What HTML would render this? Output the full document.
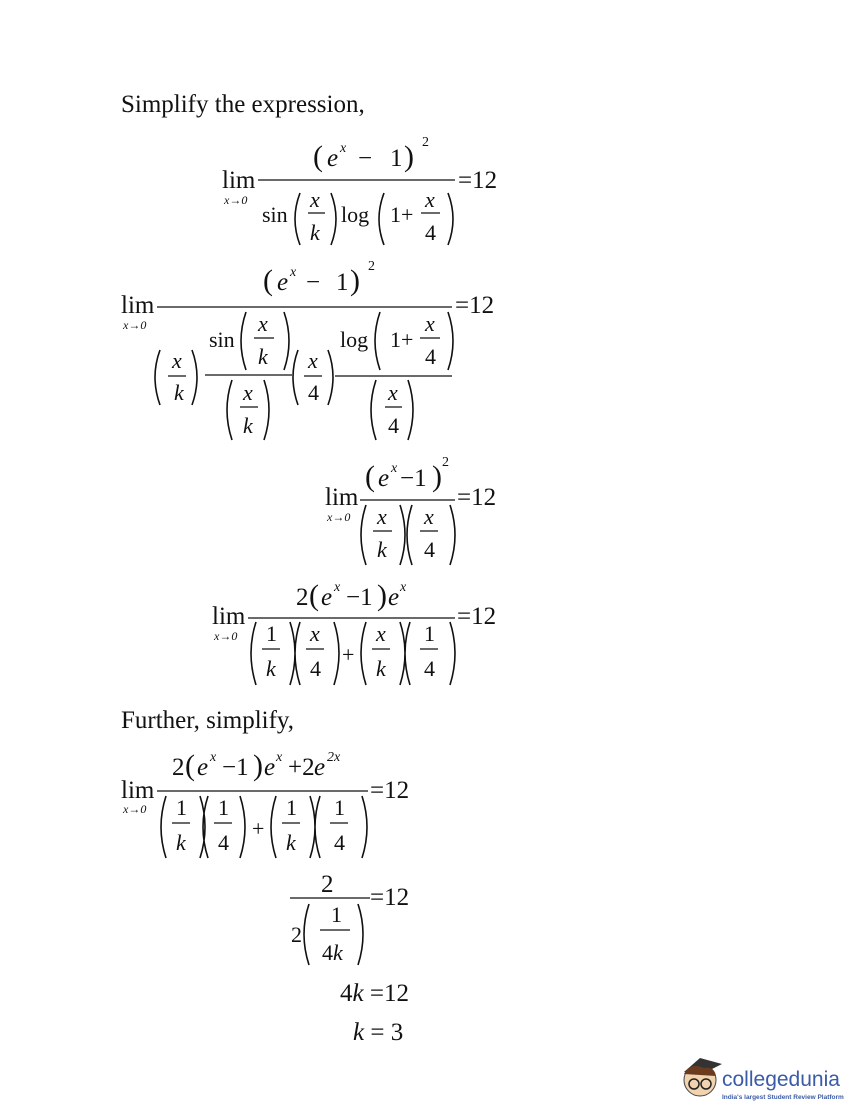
<!DOCTYPE html>
<html><head><meta charset="utf-8"><style>
html,body{margin:0;padding:0;background:#fff;}
svg{display:block}
text{font-family:"Liberation Serif",serif;fill:#111;}
.i{font-style:italic}
.s{font-size:12px;font-style:italic}
.sup{font-size:14px}
.L{font-size:25px}
.f{font-size:22px}
.p{fill:none;stroke:#111;stroke-width:1.6}
.l{stroke:#111;stroke-width:1.2}
</style></head><body>
<svg width="860" height="1120" viewBox="0 0 860 1120" xmlns="http://www.w3.org/2000/svg">
<text x="121" y="112" style="font-size:25px">Simplify the expression,</text>

<!-- Block 1 -->
<g class="L">
<text x="313" y="166" style="font-size:30px">(</text><text x="327" y="166" class="i">e</text><text x="340" y="152" class="i sup">x</text><text x="358" y="166">−</text><text x="390" y="166">1</text><text x="404" y="166" style="font-size:30px">)</text><text x="422" y="146" class="sup">2</text>
<text x="222" y="188">lim</text><text x="458" y="188">=12</text>
</g>
<text x="224" y="204" class="s">x→0</text>
<line x1="258" y1="180" x2="455" y2="180" class="l"/>
<g class="f">
<text x="262" y="222">sin</text>
<text x="310" y="207" class="i">x</text><text x="310" y="240" class="i">k</text>
<text x="341" y="222">log</text><text x="390" y="222">1+</text>
<text x="425" y="207" class="i">x</text><text x="425" y="240">4</text>
</g>
<line x1="308" y1="213" x2="325" y2="213" class="l"/><line x1="421" y1="213" x2="440" y2="213" class="l"/>
<path class="p" d="M300 193 Q290 219 300 245 M331 193 Q341 219 331 245 M384 193 Q374 219 384 245 M448 193 Q458 219 448 245"/>

<!-- Block 2 -->
<g class="L">
<text x="263" y="290" style="font-size:30px">(</text><text x="277" y="290" class="i">e</text><text x="290" y="276" class="i sup">x</text><text x="306" y="290">−</text><text x="336" y="290">1</text><text x="350" y="290" style="font-size:30px">)</text><text x="368" y="270" class="sup">2</text>
<text x="121" y="313">lim</text><text x="455" y="313">=12</text>
</g>
<text x="123" y="329" class="s">x→0</text>
<line x1="157" y1="307" x2="452" y2="307" class="l"/>
<g class="f">
<text x="209" y="347">sin</text>
<text x="258" y="331" class="i">x</text><text x="258" y="364" class="i">k</text>
<text x="243" y="400" class="i">x</text><text x="243" y="433" class="i">k</text>
<text x="172" y="368" class="i">x</text><text x="174" y="400" class="i">k</text>
<text x="308" y="368" class="i">x</text><text x="308" y="400">4</text>
<text x="340" y="347">log</text><text x="390" y="347">1+</text>
<text x="425" y="331" class="i">x</text><text x="425" y="364">4</text>
<text x="388" y="400" class="i">x</text><text x="388" y="433">4</text>
</g>
<line x1="254" y1="338" x2="274" y2="338" class="l"/>
<line x1="205" y1="375" x2="292" y2="375" class="l"/>
<line x1="240" y1="407" x2="258" y2="407" class="l"/>
<line x1="168" y1="376" x2="186" y2="376" class="l"/>
<line x1="304" y1="376" x2="322" y2="376" class="l"/>
<line x1="420" y1="338" x2="440" y2="338" class="l"/>
<line x1="335" y1="376" x2="452" y2="376" class="l"/>
<line x1="385" y1="407" x2="402" y2="407" class="l"/>
<path class="p" d="M246 312 Q236 341 246 370 M284 312 Q294 341 284 370 M232 380 Q222 410 232 440 M264 380 Q274 410 264 440 M160 350 Q150 377 160 405 M192 350 Q202 377 192 405 M298 350 Q288 377 298 405 M328 350 Q338 377 328 405 M380 312 Q370 341 380 370 M448 312 Q458 341 448 370 M376 380 Q366 410 376 440 M408 380 Q418 410 408 440"/>

<!-- Block 3 -->
<g class="L">
<text x="365" y="486" style="font-size:30px">(</text><text x="378" y="486" class="i">e</text><text x="391" y="472" class="i sup">x</text><text x="400" y="486">−1</text><text x="432" y="486" style="font-size:30px">)</text><text x="442" y="466" class="sup">2</text>
<text x="325" y="505">lim</text><text x="457" y="505">=12</text>
</g>
<text x="327" y="521" class="s">x→0</text>
<line x1="360" y1="500" x2="455" y2="500" class="l"/>
<g class="f">
<text x="377" y="524" class="i">x</text><text x="377" y="557" class="i">k</text>
<text x="424" y="524" class="i">x</text><text x="424" y="557">4</text>
</g>
<line x1="373" y1="531" x2="392" y2="531" class="l"/><line x1="420" y1="531" x2="438" y2="531" class="l"/>
<path class="p" d="M366 505 Q356 535 366 565 M400 505 Q410 535 400 565 M412 505 Q402 535 412 565 M450 505 Q460 535 450 565"/>

<!-- Block 4 -->
<g class="L">
<text x="296" y="605">2</text><text x="309" y="605" style="font-size:30px">(</text><text x="321" y="605" class="i">e</text><text x="334" y="591" class="i sup">x</text><text x="346" y="605">−1</text><text x="377" y="605" style="font-size:30px">)</text><text x="388" y="605" class="i">e</text><text x="400" y="591" class="i sup">x</text>
<text x="212" y="624">lim</text><text x="457" y="624">=12</text>
</g>
<text x="214" y="640" class="s">x→0</text>
<line x1="248" y1="618" x2="455" y2="618" class="l"/>
<g class="f">
<text x="266" y="641">1</text><text x="266" y="676" class="i">k</text>
<text x="310" y="641" class="i">x</text><text x="310" y="676">4</text>
<text x="342" y="662">+</text>
<text x="376" y="641" class="i">x</text><text x="376" y="676" class="i">k</text>
<text x="424" y="641">1</text><text x="424" y="676">4</text>
</g>
<line x1="262" y1="649" x2="280" y2="649" class="l"/><line x1="306" y1="649" x2="324" y2="649" class="l"/><line x1="372" y1="649" x2="390" y2="649" class="l"/><line x1="420" y1="649" x2="438" y2="649" class="l"/>
<path class="p" d="M256 622 Q246 653 256 685 M290 622 Q300 653 290 685 M300 622 Q290 653 300 685 M334 622 Q344 653 334 685 M366 622 Q356 653 366 685 M400 622 Q410 653 400 685 M410 622 Q400 653 410 685 M450 622 Q460 653 450 685"/>

<text x="121" y="728" style="font-size:25px">Further, simplify,</text>

<!-- Block 5 -->
<g class="L">
<text x="172" y="775">2</text><text x="185" y="775" style="font-size:30px">(</text><text x="197" y="775" class="i">e</text><text x="210" y="761" class="i sup">x</text><text x="222" y="775">−1</text><text x="253" y="775" style="font-size:30px">)</text><text x="264" y="775" class="i">e</text><text x="276" y="761" class="i sup">x</text><text x="288" y="775">+2</text><text x="314" y="775" class="i">e</text><text x="327" y="761" class="i sup">2x</text>
<text x="121" y="798">lim</text><text x="370" y="798">=12</text>
</g>
<text x="123" y="813" class="s">x→0</text>
<line x1="157" y1="791" x2="368" y2="791" class="l"/>
<g class="f">
<text x="176" y="815">1</text><text x="176" y="850" class="i">k</text>
<text x="218" y="815">1</text><text x="218" y="850">4</text>
<text x="252" y="836">+</text>
<text x="286" y="815">1</text><text x="286" y="850" class="i">k</text>
<text x="334" y="815">1</text><text x="334" y="850">4</text>
</g>
<line x1="172" y1="823" x2="190" y2="823" class="l"/><line x1="214" y1="823" x2="232" y2="823" class="l"/><line x1="282" y1="823" x2="300" y2="823" class="l"/><line x1="330" y1="823" x2="348" y2="823" class="l"/>
<path class="p" d="M166 796 Q156 827 166 858 M200 796 Q210 827 200 858 M208 796 Q198 827 208 858 M240 796 Q250 827 240 858 M276 796 Q266 827 276 858 M310 796 Q320 827 310 858 M320 796 Q310 827 320 858 M362 796 Q372 827 362 858"/>

<!-- Block 6 -->
<g class="L">
<text x="321" y="892">2</text>
<text x="370" y="905">=12</text>
</g>
<line x1="290" y1="898" x2="370" y2="898" class="l"/>
<g class="f">
<text x="291" y="942">2</text>
<text x="331" y="922">1</text><text x="322" y="960">4<tspan class="i">k</tspan></text>
</g>
<line x1="320" y1="930" x2="350" y2="930" class="l"/>
<path class="p" d="M309 904 Q299 934 309 965 M358 904 Q368 934 358 965"/>

<g class="L">
<text x="340" y="1001">4<tspan class="i">k</tspan> =12</text>
<text x="353" y="1040"><tspan class="i">k</tspan> = 3</text>
</g>

<!-- logo -->
<g>
<circle cx="700" cy="1080" r="16" fill="#f2d3b0" stroke="#444" stroke-width="1"/>
<path d="M684 1072 L700 1058 L722 1064 L706 1072 Z" fill="#333"/>
<path d="M684 1074 Q690 1062 704 1068 Q714 1066 716 1076 Z" fill="#6b3b1f"/>
<circle cx="694" cy="1084" r="5" fill="none" stroke="#222" stroke-width="1.5"/>
<circle cx="706" cy="1084" r="5" fill="none" stroke="#222" stroke-width="1.5"/>
<text x="722" y="1086" style="font-family:'Liberation Sans',sans-serif;font-size:21px;fill:#3a5ba6">collegedunia</text>
<text x="722" y="1099" style="font-family:'Liberation Sans',sans-serif;font-size:6.5px;font-weight:bold;fill:#3a5ba6">India's largest Student Review Platform</text>
</g>
</svg>
</body></html>
